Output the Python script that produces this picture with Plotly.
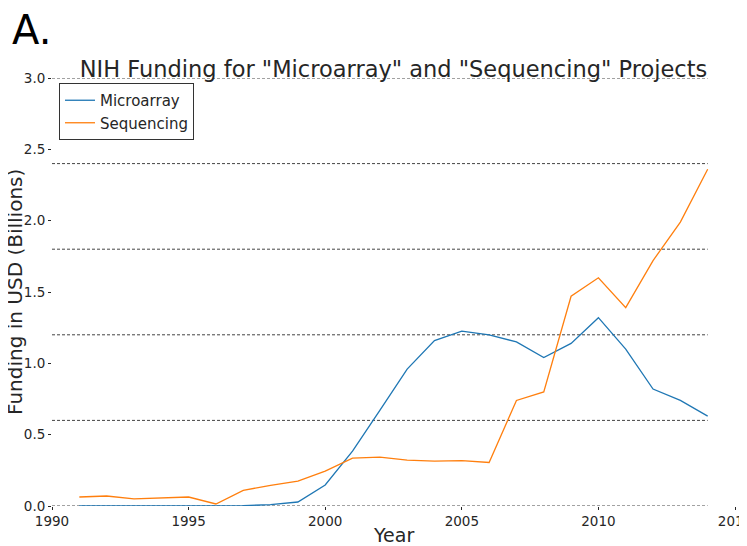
import plotly.graph_objects as go

years = list(range(1991, 2015))
microarray = [0.0, 0.0, 0.0, 0.0, 0.0, 0.0, 0.002, 0.01, 0.028, 0.147,
              0.385, 0.67, 0.96, 1.16, 1.225, 1.20, 1.15, 1.04, 1.14, 1.32,
              1.10, 0.82, 0.74, 0.63]
sequencing = [0.063, 0.07, 0.05, 0.056, 0.063, 0.014, 0.11, 0.145, 0.175, 0.245,
              0.336, 0.343, 0.322, 0.315, 0.318, 0.305, 0.74, 0.80, 1.47, 1.60,
              1.39, 1.72, 1.99, 2.36]
grid_levels = [0.0, 0.6, 1.2, 1.8, 2.4, 3.0]
x_ticks = [1990, 1995, 2000, 2005, 2010, 2015]
y_ticks = [0.0, 0.5, 1.0, 1.5, 2.0, 2.5, 3.0]

FONT = "DejaVu Sans"
TXT = "#262626"

# plot area in figure pixels (page has an 8px body offset)
L, T, PW, PH = 44, 70, 683, 428


def px(xf):
    return (xf - L) / PW


def py(yf):
    return (T + PH - yf) / PH


fig = go.Figure()
fig.add_trace(go.Scatter(x=years, y=microarray, mode="lines", name="Microarray",
                         line=dict(color="#1f77b4", width=1.3)))
fig.add_trace(go.Scatter(x=years, y=sequencing, mode="lines", name="Sequencing",
                         line=dict(color="#ff7f0e", width=1.3)))

for g in grid_levels:
    fig.add_shape(type="line", xref="x", yref="y", x0=years[0] - 1, x1=years[-1],
                  y0=g, y1=g, layer="below",
                  line=dict(color="#444444", width=1, dash="3px,2px"))

fig.update_layout(
    width=747, height=546,
    margin=dict(l=L, r=747 - L - PW, t=T, b=546 - T - PH, autoexpand=False),
    paper_bgcolor="white", plot_bgcolor="white",
    font=dict(family=FONT, color=TXT, size=14),
    title=dict(text='NIH Funding for "Microarray" and "Sequencing" Projects',
               x=0.5, xref="paper", xanchor="center",
               y=1 - 61 / 546, yref="container", yanchor="middle",
               font=dict(size=22.5, family=FONT, color=TXT)),
    showlegend=True,
    legend=dict(x=px(51), y=py(75), xanchor="left", yanchor="top",
                bgcolor="white", bordercolor="#333333", borderwidth=1,
                font=dict(size=15, family=FONT, color=TXT),
                itemwidth=30, tracegroupgap=0),
    xaxis=dict(range=[1990, 2015], tickvals=x_ticks, ticks="outside", ticklen=3,
               tickcolor=TXT, showgrid=False, zeroline=False, showline=False,
               automargin=False, tickfont=dict(size=13.5)),
    yaxis=dict(range=[0, 3.0], tickvals=y_ticks, tickformat=".1f", ticks="outside",
               ticklen=3, tickcolor=TXT, showgrid=False, zeroline=False, showline=False,
               automargin=False, tickfont=dict(size=13.5)),
)

# axis titles
fig.add_annotation(text="Year", xref="paper", yref="paper", x=0.5, y=py(527),
                   xanchor="center", yanchor="middle", showarrow=False,
                   font=dict(size=19, family=FONT, color=TXT))
fig.add_annotation(text="Funding in USD (Billions)", xref="paper", yref="paper",
                   x=px(7), y=py(284), xanchor="center", yanchor="middle",
                   textangle=-90, showarrow=False,
                   font=dict(size=20, family=FONT, color=TXT))

fig.add_annotation(text="A.", xref="paper", yref="paper", x=px(2), y=py(22),
                   xanchor="left", yanchor="middle", showarrow=False,
                   font=dict(size=40, family=FONT, color="black"))

fig.write_html("out.html")
